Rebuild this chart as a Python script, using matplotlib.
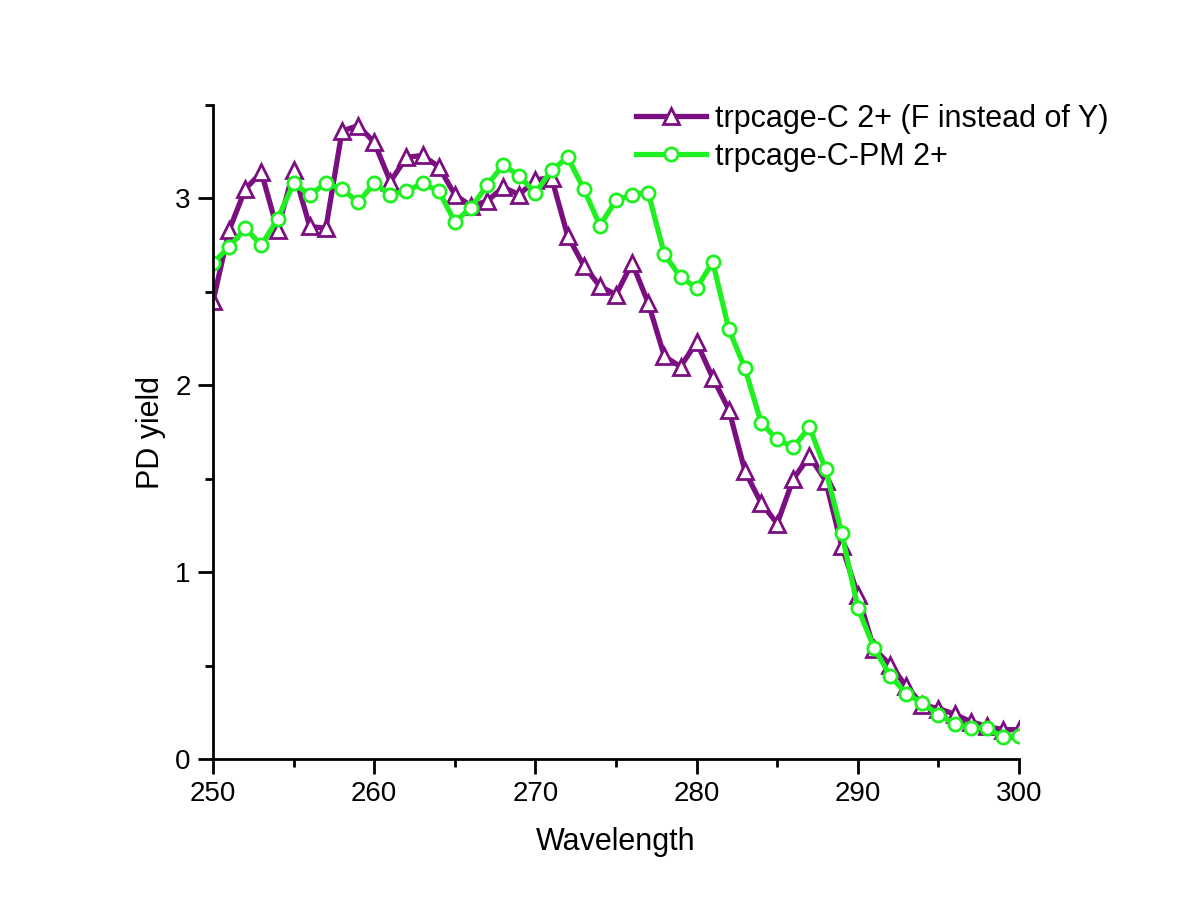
import numpy as np
import matplotlib.pyplot as plt
from matplotlib.ticker import MultipleLocator

plt.rcParams['font.family'] = ['Liberation Sans', 'DejaVu Sans']

wavelength = np.arange(250, 301)

pd_f = [2.45, 2.83, 3.05, 3.14, 2.83, 3.15, 2.85, 2.84, 3.36, 3.39,
        3.30, 3.09, 3.22, 3.23, 3.17, 3.02, 2.96, 2.985, 3.06, 3.02,
        3.10, 3.11, 2.80, 2.64, 2.53, 2.485, 2.655, 2.44, 2.155, 2.10,
        2.23, 2.04, 1.87, 1.54, 1.37, 1.26, 1.50, 1.62, 1.49, 1.14,
        0.88, 0.59, 0.505, 0.39, 0.29, 0.27, 0.24, 0.20, 0.175, 0.157,
        0.157]

pd_pm = [2.655, 2.74, 2.84, 2.75, 2.89, 3.08, 3.02, 3.08, 3.05, 2.98,
         3.08, 3.02, 3.04, 3.08, 3.04, 2.875, 2.95, 3.07, 3.18, 3.12,
         3.03, 3.15, 3.22, 3.05, 2.855, 2.99, 3.02, 3.03, 2.70, 2.58,
         2.52, 2.66, 2.30, 2.09, 1.80, 1.71, 1.67, 1.775, 1.55, 1.21,
         0.81, 0.595, 0.446, 0.35, 0.30, 0.237, 0.19, 0.166, 0.166, 0.116,
         0.125]

fig = plt.figure(figsize=(11.79, 9.09), dpi=100)
ax = fig.add_axes([0.1807, 0.165, 0.6836, 0.7195])

ax.plot(wavelength, pd_f, color='#7B0E80', lw=3.8, marker='^', ms=12,
        mfc='white', mec='#7B0E80', mew=2, label='trpcage-C 2+ (F instead of Y)')
ax.plot(wavelength, pd_pm, color='#1FF01F', lw=3.8, marker='o', ms=9.5,
        mfc='white', mec='#1FF01F', mew=2, label='trpcage-C-PM 2+')

ax.set_xlim(250, 300)
ax.set_ylim(0, 3.5)
ax.xaxis.set_major_locator(MultipleLocator(10))
ax.xaxis.set_minor_locator(MultipleLocator(5))
ax.yaxis.set_major_locator(MultipleLocator(1))
ax.yaxis.set_minor_locator(MultipleLocator(0.5))

for s in ['top', 'right']:
    ax.spines[s].set_visible(False)
for s in ['left', 'bottom']:
    ax.spines[s].set_linewidth(2)
ax.tick_params(which='major', direction='out', length=11, width=2, labelsize=20, pad=5)
ax.tick_params(which='minor', direction='out', length=6, width=2)

ax.set_xlabel('Wavelength', fontsize=22, labelpad=14)
ax.set_ylabel('PD yield', fontsize=22, labelpad=7)

ax.legend(loc='upper left', bbox_to_anchor=(636 / 1179, 1 - 104 / 909),
          bbox_transform=fig.transFigure, frameon=False, borderpad=0,
          borderaxespad=0, fontsize=22, handlelength=2.3, handletextpad=0.3,
          labelspacing=0.25)

fig.savefig('out.png', dpi=100)
